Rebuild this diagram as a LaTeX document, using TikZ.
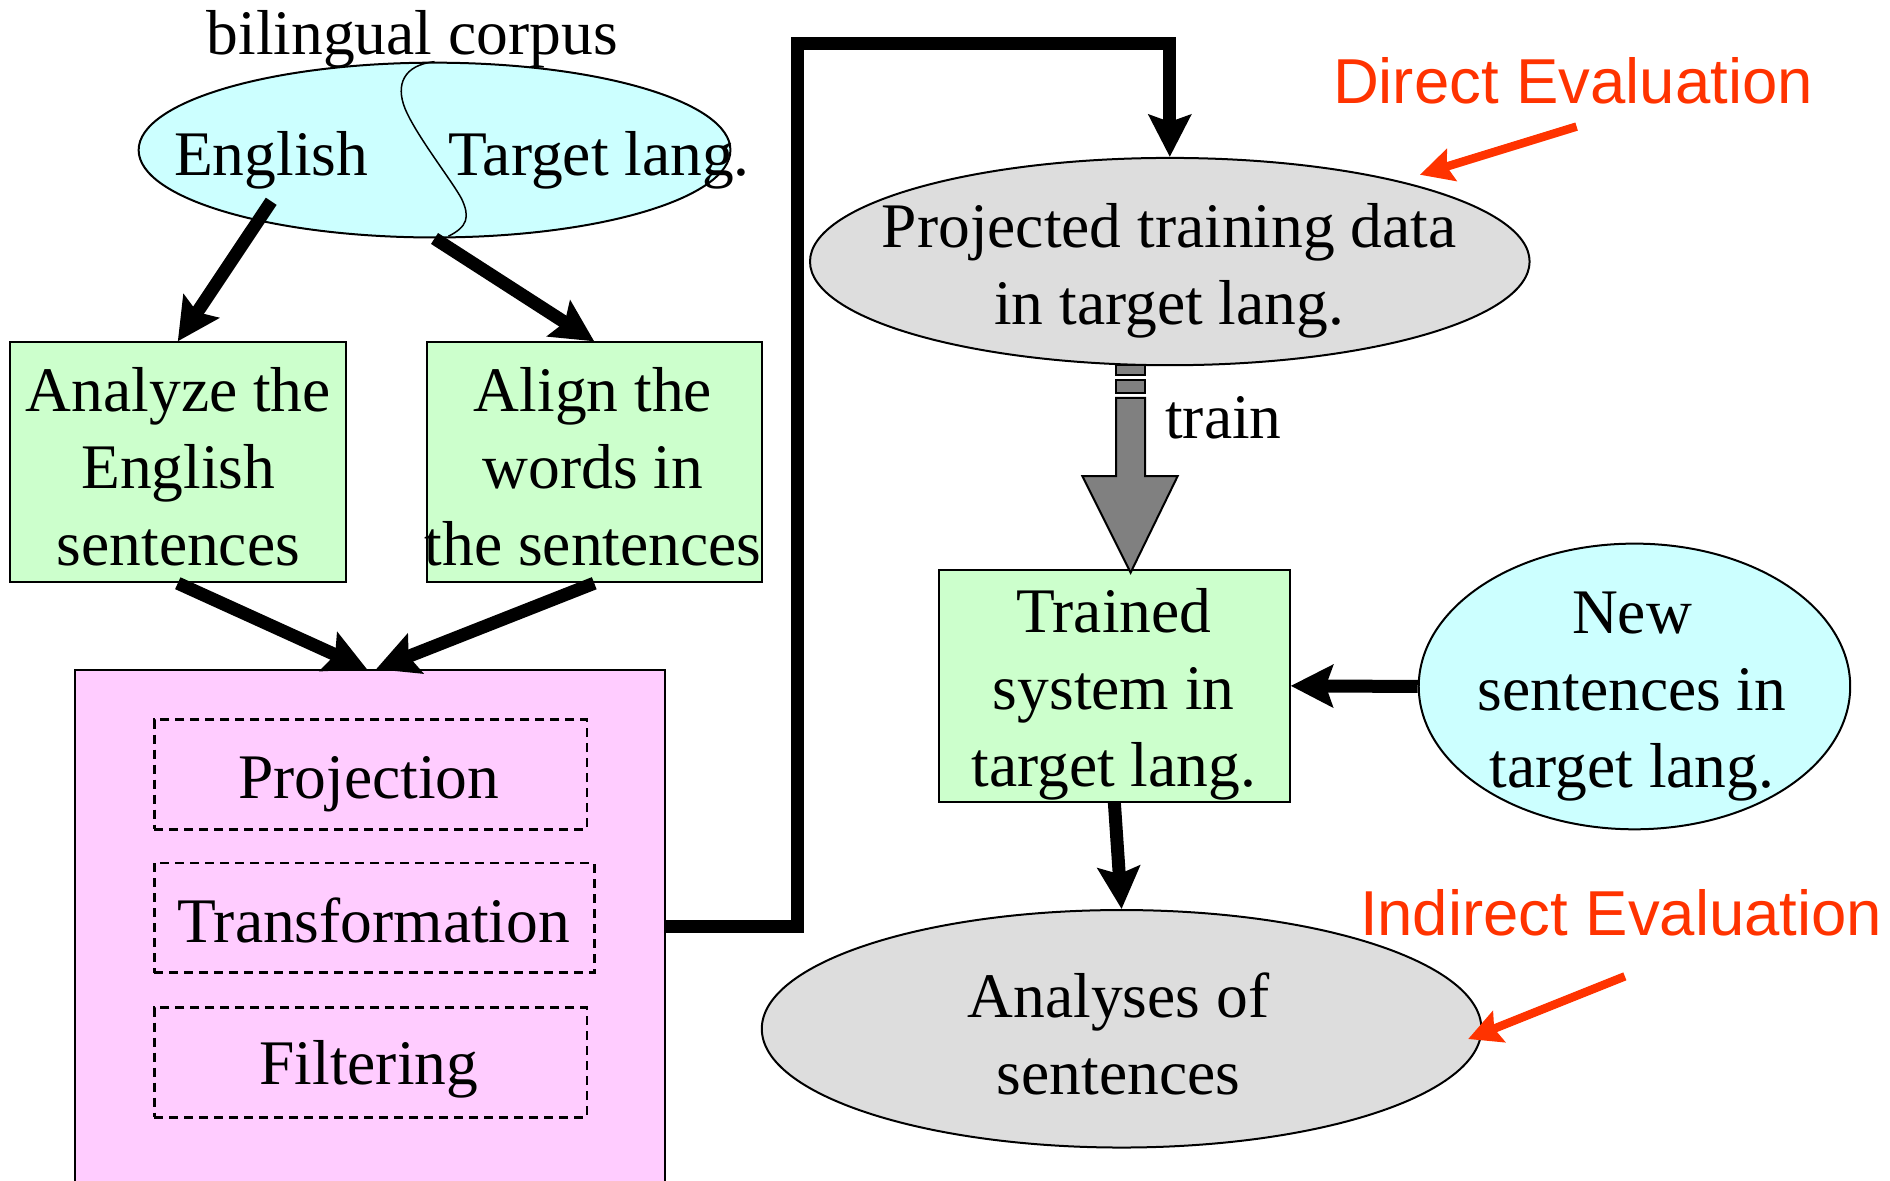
\documentclass[tikz,border=0pt]{standalone}
\usepackage{fontspec}
\setmainfont{Liberation Serif}
\newfontfamily\evalfont{Liberation Sans}
\usetikzlibrary{shapes.geometric,arrows.meta}
\definecolor{corpuscyan}{HTML}{CCFFFF}
\definecolor{stepgreen}{HTML}{CCFFCC}
\definecolor{procpink}{HTML}{FFCCFF}
\definecolor{datagray}{HTML}{DDDDDD}
\definecolor{evalred}{HTML}{FF3300}
\definecolor{trainfill}{HTML}{808080}
\begin{document}
\begin{tikzpicture}[x=1.2054pt,y=-1.2054pt,
  every node/.style={font=\fontsize{63.5}{77}\selectfont},
  thinborder/.style={draw=black, line width=2pt},
  stepbox/.style={rectangle, thinborder, fill=stepgreen, inner sep=0pt},
  databubble/.style={ellipse, thinborder, inner sep=0pt},
  caption/.style={inner sep=0pt, align=center},
  dashbox/.style={rectangle, draw=black, line width=2.5pt, dash pattern=on 9pt off 6pt, inner sep=0pt},
  flow/.style={line width=13pt, -{Stealth[length=42pt,width=42pt,inset=7pt]}},
  evalarrow/.style={draw=evalred, line width=8.5pt, -{Stealth[length=33pt,width=33pt,inset=5pt]}},
  evaltext/.style={inner sep=0pt, text=evalred, font=\evalfont\fontsize{63.5}{77}\selectfont},
]
\useasboundingbox (0,0) rectangle (1568,979);
\clip (0,0) rectangle (1568,979);

% bilingual corpus, split into its two halves
\node[databubble, fill=corpuscyan, minimum width=591.8pt, minimum height=174.8pt] (bc) at (360.5,124.5) {};
\draw[line width=1.5pt] (bc.north) .. controls (335,54) and (328,70) .. (336,90)
  .. controls (345,112) and (375,150) .. (383,165)
  .. controls (390,180) and (388,188) .. (372,196);
\node[caption] (corpus) at (342,33) {bilingual corpus};
\node[caption] (eng) at (225,133) {English};
\node[caption] (tgt) at (497,133) {Target lang.};
\coordinate (engout) at (225,167);

% preprocessing steps
\node[stepbox, minimum width=336.3pt, minimum height=239.9pt] (ana) at (147.5,383.5) {};
\node[caption] (anatext) at (148,387) {Analyze the\\English\\sentences};
\node[stepbox, minimum width=335.1pt, minimum height=239.9pt] (ali) at (493,383.5) {};
\node[caption] (alitext) at (492,387) {Align the\\words in\\the sentences};

% projection pipeline
\node[rectangle, thinborder, fill=procpink, minimum width=590.6pt, minimum height=513.5pt, inner sep=0pt] (proc) at (307,769) {};
\node[dashbox, minimum width=432.7pt, minimum height=109.7pt] (projbox) at (307.5,642.5) {};
\node[caption] (projtext) at (306,650.5) {Projection};
\node[dashbox, minimum width=440pt, minimum height=109.7pt] (transbox) at (310.5,761.5) {};
\node[caption] (transtext) at (310,763.5) {Transformation};
\node[dashbox, minimum width=432.7pt, minimum height=109.7pt] (filtbox) at (307.5,881.5) {};
\node[caption] (filttext) at (306,887.5) {Filtering};

% target-side data and system
\node[databubble, fill=datagray, minimum width=719.6pt, minimum height=207.3pt] (pj) at (970.5,217) {};
\node[caption] (pjtext) at (970,225) {Projected training data\\in target lang.};
\node[stepbox, minimum width=350.8pt, minimum height=231.4pt] (ts) at (924.5,569) {};
\node[caption] (tstext) at (924,576) {Trained\\system in\\target lang.};
\node[databubble, fill=corpuscyan, minimum width=431.5pt, minimum height=285.7pt] (ns) at (1356,569.5) {};
\node[caption] (nstext) at (1354,578) {New\\sentences in\\target lang.};
\node[databubble, fill=datagray, minimum width=719.6pt, minimum height=237.5pt] (res) at (930.5,853.5) {};
\node[caption] (restext) at (928,858) {Analyses of\\sentences};

% block arrow for training
\begin{scope}[fill=trainfill, draw=black, line width=2pt]
  \filldraw (926,303) rectangle (950,311);
  \filldraw (926,315) rectangle (950,326);
  \filldraw (926,330) -- (950,330) -- (950,395) -- (977,395) -- (938,475) -- (898,395) -- (926,395) -- cycle;
\end{scope}
\node[caption] (train) at (1015,347) {train};

% flow connectors
\draw[flow] (engout) -- (ana.north);
\draw[flow] (bc.south) -- (ali.north);
\draw[flow] (ana.south) -- ([xshift=-3pt]proc.north);
\draw[flow] (ali.south) -- ([xshift=6pt]proc.north);
\draw[flow, line join=miter] (proc.east) -- (662,769) |- ([yshift=113.3pt]pj.north) -- (pj.north);
\draw[flow] (ns.west) -- (ts.east);
\draw[flow] (ts.south) -- (res.north);

% evaluation markers
\node[evaltext] (direct) at (1305,67) {Direct Evaluation};
\coordinate (dtail) at (1308,105);
\coordinate (dhead) at (1178,145);
\draw[evalarrow] (dtail) -- (dhead);
\node[evaltext] (indirect) at (1345,757) {Indirect Evaluation};
\coordinate (itail) at (1348,810);
\coordinate (ihead) at (1218,862);
\draw[evalarrow] (itail) -- (ihead);
\end{tikzpicture}
\end{document}
